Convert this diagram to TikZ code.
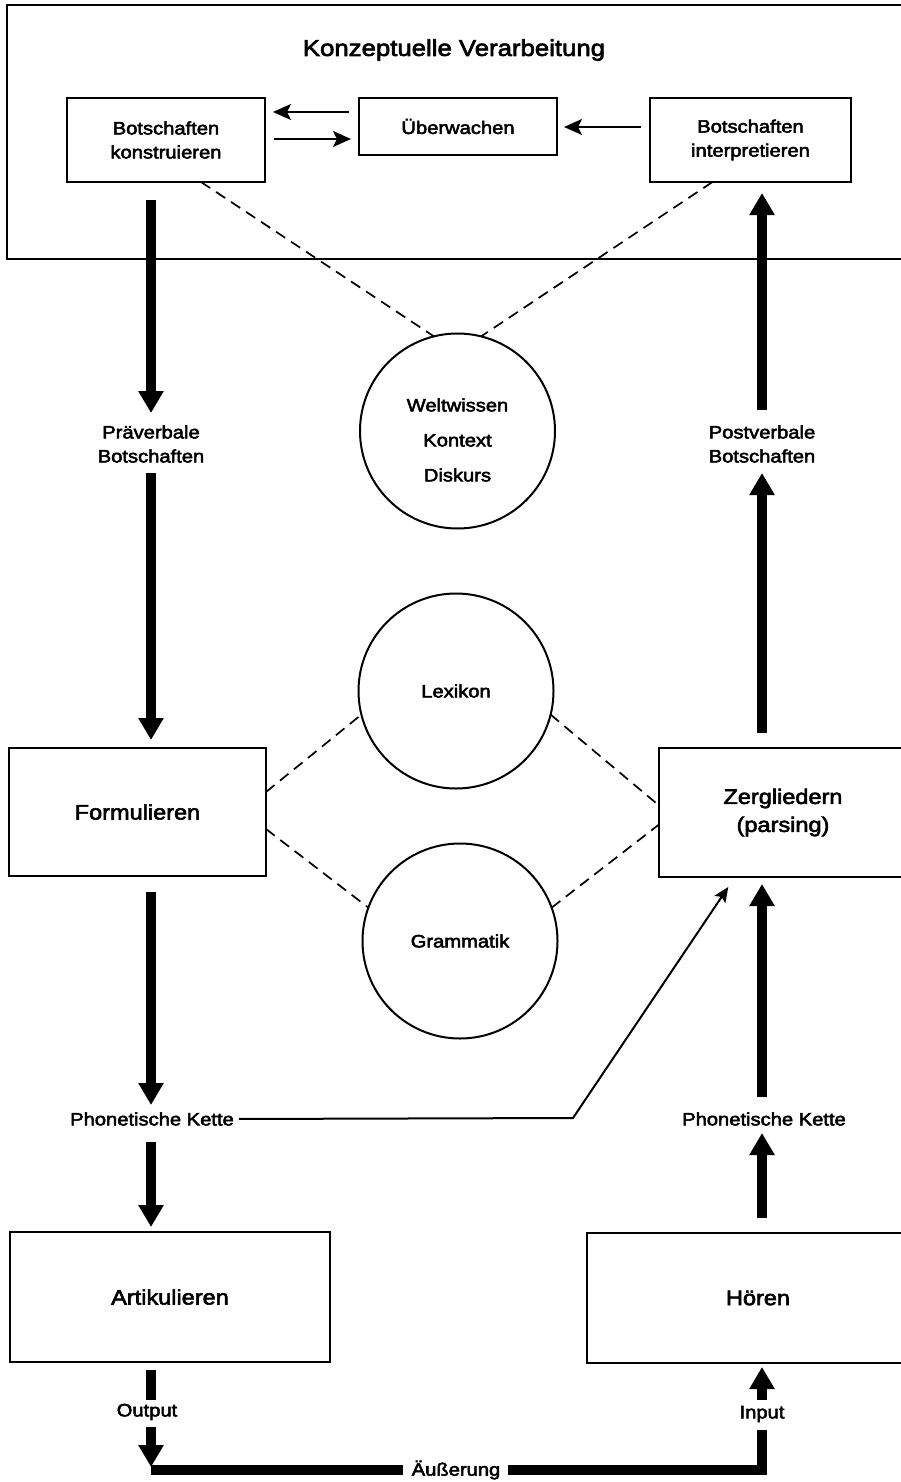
\documentclass[tikz,border=0pt]{standalone}
\usepackage{fontspec}
\setmainfont{Liberation Sans}[FakeStretch=1.12, FakeBold=2.8]
\usetikzlibrary{arrows.meta,calc}
\begin{document}
\begin{tikzpicture}[x=1pt,y=-1pt,
  box/.style={draw, line width=2.1pt, inner sep=0pt, outer sep=0pt, align=center},
  openbox/.style={inner sep=0pt, outer sep=0pt, align=center},
  boxline/.style={line width=2.1pt},
  circ/.style={draw, circle, line width=2pt, minimum size=195pt, inner sep=0pt, outer sep=0pt, align=center},
  sm/.style={font=\fontsize{18}{24}\selectfont},
  lg/.style={font=\fontsize{21}{28}\selectfont},
  lbl/.style={inner sep=0pt, outer sep=0pt, align=center, sm},
  thickarr/.style={line width=9.5pt, -{Triangle[width=24pt,length=22pt]}},
  thickln/.style={line width=9.5pt},
  thinarr/.style={line width=1.8pt, -{Stealth[width=16pt,length=18pt,inset=4pt]}},
  dashedln/.style={dashed, dash pattern=on 11pt off 7pt, line width=1.7pt}]
\useasboundingbox (0,0) rectangle (900,1482);
\fill[white] (0,0) rectangle (900,1482);

% outer frame (open to the right, cut by the page edge)
\node[openbox, minimum width=902pt, minimum height=254pt] (KV) at (458,132) {};
\draw[boxline] (KV.north east) -- (KV.north west) -- (KV.south west) -- (KV.south east);
\node[lbl, font=\fontsize{23}{28}\selectfont] (title) at (454,50) {Konzeptuelle Verarbeitung};

% top boxes
\node[box, sm, minimum width=198pt, minimum height=84pt] (BK) at (166,140) {Botschaften\\konstruieren};
\node[box, sm, minimum width=198pt, minimum height=57pt] (UW) at (458,126.5) {Überwachen};
\node[box, sm, minimum width=201pt, minimum height=84pt] (BI) at (750.5,140) {Botschaften\\interpretieren};

% circles
\node[circ, minimum size=195pt] (WK) at (457.5,431) {};
\node[lbl, font=\fontsize{18}{35}\selectfont] (WKt) at (457.5,440) {Weltwissen\\Kontext\\Diskurs};
\node[circ, sm] (LX) at (456,691) {Lexikon};
\node[circ, sm] (GR) at (460,941) {Grammatik};

% middle boxes
\node[box, lg, minimum width=257pt, minimum height=128pt] (FO) at (137.5,812) {Formulieren};
\node[openbox, lg, minimum width=248pt, minimum height=129pt] (ZG) at (783,812.5) {Zergliedern\\(parsing)};
\draw[boxline] (ZG.north east) -- (ZG.north west) -- (ZG.south west) -- (ZG.south east);

% bottom boxes
\node[box, lg, minimum width=320pt, minimum height=130pt] (AR) at (170,1297) {Artikulieren};
\node[openbox, lg, minimum width=342pt, minimum height=130pt] (HO) at (758,1298) {Hören};
\draw[boxline] (HO.north east) -- (HO.north west) -- (HO.south west) -- (HO.south east);

% labels
\coordinate (L) at (151,0);
\coordinate (R) at (762,0);
\node[lbl] (pre) at (151,444) {Präverbale\\Botschaften};
\node[lbl] (post) at (762,444) {Postverbale\\Botschaften};
\node[lbl] (phl) at (152,1119) {Phonetische Kette};
\node[lbl] (phr) at (764,1119) {Phonetische Kette};
\node[lbl] (out) at (147,1412) {Output};
\node[lbl] (inp) at (762,1414) {Input};
\node[lbl] (aeu) at (456,1470) {Äußerung};

% thin arrows in the top box
\draw[thinarr, shorten <=10pt, shorten >=8pt] (UW.west |- 0,112) -- (BK.east |- 0,112);
\draw[thinarr, shorten <=9pt, shorten >=8pt] (BK.east |- 0,139) -- (UW.west |- 0,139);
\draw[thinarr, shorten <=9pt, shorten >=7pt] (BI.west |- 0,127) -- (UW.east |- 0,127);

% dashed links
\draw[dashedln] ([xshift=35pt]BK.south) -- (WK.104);
\draw[dashedln] ([xshift=-38pt]BI.south) -- (WK.76);
\draw[dashedln] ([yshift=20pt]FO.east) -- (LX.194);
\draw[dashedln] ([yshift=-17pt]FO.east) -- (GR.160);
\draw[dashedln] (LX.-14) -- ([yshift=7pt]ZG.west);
\draw[dashedln] (GR.20) -- ([yshift=-12pt]ZG.west);

% left column
\draw[thickarr, shorten <=18pt, shorten >=31pt] (L |- BK.south) -- (L |- pre.center);
\draw[thickarr, shorten <=29pt, shorten >=8pt] (L |- pre.center) -- (L |- FO.north);
\draw[thickarr, shorten <=16pt, shorten >=14pt] (L |- FO.south) -- (L |- phl.center);
\draw[thickarr, shorten <=23pt, shorten >=5pt] (L |- phl.center) -- (L |- AR.north);
\draw[thickln, shorten <=8pt, shorten >=12pt] (L |- AR.south) -- (L |- out.center);
\draw[thickarr, shorten <=15pt, shorten >=3pt] (L |- out.center) -- (L |- aeu.center);

% bottom line
\draw[line width=10pt, shorten >=9pt] (L |- aeu.center) -- (aeu.west);
\draw[line width=10pt, shorten <=8pt, shorten >=16pt] (aeu.east) -- (R |- aeu.center) -- (R |- inp.center);

% right column
\draw[thickarr, shorten <=14pt, shorten >=4pt] (R |- inp.center) -- (R |- HO.south);
\draw[thickarr, shorten <=15pt, shorten >=14pt] (R |- HO.north) -- (R |- phr.center);
\draw[thickarr, shorten <=22pt, shorten >=7pt] (R |- phr.center) -- (R |- ZG.south);
\draw[thickarr, shorten <=15pt, shorten >=29pt] (R |- ZG.north) -- (R |- post.center);
\draw[thickarr, shorten <=34pt, shorten >=11pt] (R |- post.center) -- (R |- BI.south);

% phonetic chain to parsing
\coordinate (bend) at (573,1118);
\draw[line width=2pt, -{Stealth[width=13pt,length=15pt,inset=3pt]}, shorten <=5pt, shorten >=12pt]
  (phl.east) -- (bend) -- ([xshift=-48pt]ZG.south);
\end{tikzpicture}
\end{document}
